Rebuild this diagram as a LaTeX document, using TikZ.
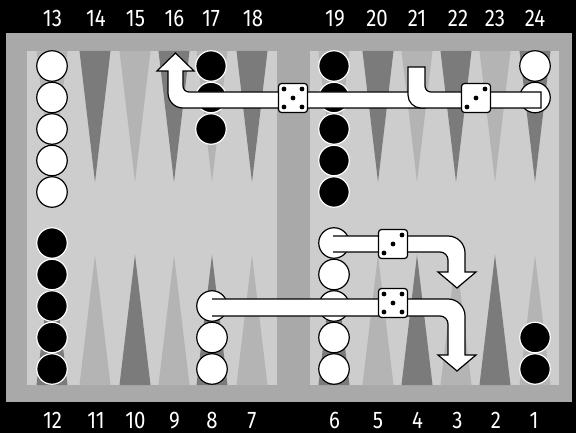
\documentclass[tikz,border=0pt]{standalone}
\usepackage{fontspec}
\newfontfamily\numfont{Fira Sans}[FakeStretch=0.85]
\definecolor{framec}{HTML}{A9A9A9}
\definecolor{fieldc}{HTML}{CDCDCD}
\definecolor{lt}{HTML}{B4B4B4}
\definecolor{dk}{HTML}{7B7B7B}
\begin{document}
\begin{tikzpicture}[x=1pt,y=-1pt,
  lbl/.style={text=white, font=\numfont\fontsize{24}{24}\selectfont, inner sep=0pt, anchor=center},
  wc/.style={circle, draw=black, fill=white, line width=1.2pt, minimum size=30.5pt, inner sep=0pt},
  bc/.style={circle, draw=white, fill=black, line width=1.2pt, minimum size=30.5pt, inner sep=0pt},
  die/.style={draw=black, fill=white, line width=1.2pt, rounded corners=3pt, minimum size=29pt, inner sep=0pt},
  pip/.style={fill=black},
  shapefill/.style={fill=white},
  shapeline/.style={draw=black, line width=1.2pt, line join=miter},
]
\useasboundingbox (0,0) rectangle (576,433);
\fill[black] (0,0) rectangle (576,433);
\fill[framec] (6,33) rectangle (572,402);
\fill[fieldc] (27,51) rectangle (277,385);
\fill[fieldc] (310,51) rectangle (559,385);
% top points
\foreach \x/\c in {52/lt,95/dk,135/lt,174/dk,212/lt,252/dk,334/lt,378/dk,417/lt,456/dk,495/lt,535/dk}
  \fill[\c] ({\x-15.5},51) -- ({\x+15.5},51) -- (\x,182) -- cycle;
% bottom points
\foreach \x/\c in {52/dk,95/lt,135/dk,174/lt,212/dk,252/lt,334/dk,378/lt,417/dk,456/lt,495/dk,535/lt}
  \fill[\c] ({\x-15.5},385) -- ({\x+15.5},385) -- (\x,255) -- cycle;
% labels
\foreach \x/\n in {52.5/13,96/14,135.5/15,174.5/16,211/17,253/18,335/19,377/20,417/21,458/22,495/23,535/24}
  \node[lbl] (t\n) at (\x,18.5) {\n};
\foreach \x/\n in {52.5/12,96/11,135.5/10,174.5/9,212/8,252/7,334.5/6,378/5,417.5/4,457.5/3,496/2,534/1}
  \node[lbl] (b\n) at (\x,420.5) {\n};
% checkers top
\foreach \i in {0,...,4} \node[wc] (w13-\i) at (52,{66+31.5*\i}) {};
\foreach \i in {0,...,2} \node[bc] (k17-\i) at (211,{66+31.5*\i}) {};
\foreach \i in {0,...,4} \node[bc] (k19-\i) at (334,{66+31.5*\i}) {};
\foreach \i in {0,...,1} \node[wc] (w24-\i) at (535,{66+31.5*\i}) {};
% checkers bottom
\foreach \i in {0,...,4} \node[bc] (k12-\i) at (52,{369-31.5*\i}) {};
\foreach \i in {0,...,2} \node[wc] (w8-\i) at (212,{369-31.5*\i}) {};
\foreach \i in {0,...,4} \node[wc] (w6-\i) at (334,{369-31.5*\i}) {};
\foreach \i in {0,...,1} \node[bc] (k1-\i) at (535,{369-31.5*\i}) {};
% top arrow 21 -> 16
\path[shapefill,shapeline] (425,92) -- (189,92) .. controls (185.7,92) and (183,89.3) .. (183,86)
  -- (183,71) -- (194,71) -- (175.5,53) -- (157,71) -- (168,71) -- (168,93)
  .. controls (168,101.3) and (174.7,108) .. (183,108) -- (425,108) -- cycle;
% stub 24 -> 21
\path[shapefill,shapeline] (541,92) -- (431,92) .. controls (427.7,92) and (425,89.3) .. (425,86)
  -- (425,67) -- (408,67) -- (408,95) .. controls (408,102.2) and (413.8,108) .. (421,108)
  -- (541,108) -- cycle;
% bottom arrow 6 -> 3
\fill[shapefill] (333,236) -- (448,236) .. controls (457.4,236) and (465,243.6) .. (465,253)
  -- (465,272) -- (476,272) -- (457,288) -- (438,272) -- (448,272) -- (448,260)
  .. controls (448,255.6) and (444.4,252) .. (440,252) -- (333,252) -- cycle;
\draw[shapeline] (333,236) -- (448,236) .. controls (457.4,236) and (465,243.6) .. (465,253)
  -- (465,272) -- (476,272) -- (457,288) -- (438,272) -- (448,272) -- (448,260)
  .. controls (448,255.6) and (444.4,252) .. (440,252) -- (333,252);
% bottom arrow 8 -> 3
\fill[shapefill] (212,299) -- (448,299) .. controls (457.4,299) and (465,306.6) .. (465,316)
  -- (465,355) -- (476,355) -- (457,371) -- (438,355) -- (448,355) -- (448,324)
  .. controls (448,319.6) and (444.4,316) .. (440,316) -- (212,316) -- cycle;
\draw[shapeline] (212,299) -- (448,299) .. controls (457.4,299) and (465,306.6) .. (465,316)
  -- (465,355) -- (476,355) -- (457,371) -- (438,355) -- (448,355) -- (448,324)
  .. controls (448,319.6) and (444.4,316) .. (440,316) -- (212,316);
% dice
\node[die] (d1) at (293,98) {};
\node[die] (d2) at (476,98) {};
\node[die] (d3) at (393,244) {};
\node[die] (d4) at (393,303) {};
\foreach \d in {d1,d4}
  \foreach \dx/\dy in {-9/-9,9/-9,0/0,-9/9,9/9}
    \fill[pip] (\d.center) ++(\dx,\dy) circle[radius=2.4pt];
\foreach \d in {d2,d3}
  \foreach \dx/\dy in {9/-9,0/0,-9/9}
    \fill[pip] (\d.center) ++(\dx,\dy) circle[radius=2.4pt];
\end{tikzpicture}
\end{document}
